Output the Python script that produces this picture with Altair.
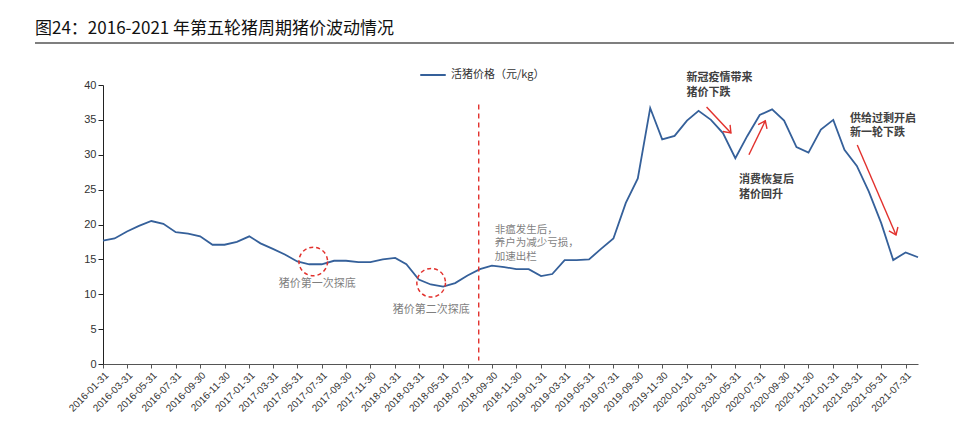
import altair as alt
import pandas as pd

# ---------------- data ----------------
dates = [d.strftime("%Y-%m-%d") for d in pd.date_range("2016-01-31", periods=68, freq="ME")]
prices = [
    17.7, 18.0, 19.0, 19.8, 20.5, 20.1, 18.9, 18.7, 18.3, 17.1, 17.1, 17.5,
    18.3, 17.3, 16.5, 15.7, 14.7, 14.3, 14.3, 14.8, 14.8, 14.6, 14.6, 15.0,
    15.2, 14.3, 12.1, 11.4, 11.1, 11.6, 12.7, 13.6,
    14.1, 13.9, 13.6, 13.6, 12.6, 12.9, 14.9, 14.9, 15.0, 16.5, 18.0, 23.1, 26.6, 36.7, 32.2, 32.7,
    34.9, 36.3, 35.0, 33.1, 29.5, 32.7, 35.7, 36.5, 34.9, 31.1, 30.3, 33.6,
    35.0, 30.7, 28.4, 24.7, 20.2, 14.9, 16.0, 15.3,
]
series_name = "活猪价格（元/kg）"
title_text = "图24：2016-2021 年第五轮猪周期猪价波动情况"

tick_dates = dates[::2]

# dashed vertical marker (ASF outbreak)
vline_date = ["2018-08-28"]
vline_top = [37.2]
vline_bottom = [0.5]

# dashed circles (bottoms)
circle_dates = ["2017-07-10", "2018-05-01"]
circle_vals = [14.7, 11.65]

# circle captions
cap_texts = ["猪价第一次探底", "猪价第二次探底"]
cap_dates = ["2017-07-20", "2018-05-01"]
cap_vals = [11.4, 7.8]

# grey note
note_text = ["非瘟发生后，\n养户为减少亏损，\n加速出栏"]
note_date = ["2018-10-07"]
note_val = [20.0]

# bold notes
bold_texts = ["新冠疫情带来\n猪价下跌", "消费恢复后\n猪价回升", "供给过剩开启\n新一轮下跌"]
bold_dates = ["2020-01-30", "2020-06-09", "2021-03-14"]
bold_vals = [41.8, 27.2, 36.0]

# arrows
arr_x = ["2020-03-20", "2020-07-04", "2021-04-01"]
arr_y = [36.86, 29.99, 31.4]
arr_x2 = ["2020-05-20", "2020-08-14", "2021-07-07"]
arr_y2 = [33.13, 34.86, 18.5]
arr_angle = [47, 295, 66.6]

# ---------------- chart ----------------
FONT_CN = "Noto Sans CJK SC"
RED = "#e2312d"
BLUE = "#35609a"

ts = lambda s: alt.DateTime(year=int(s[:4]), month=int(s[5:7]), date=int(s[8:10]), utc=True)
x_scale = alt.Scale(type="utc", domain=[ts(dates[0]), ts(dates[-1])], nice=False)
y_scale = alt.Scale(domain=[0, 40], nice=False)

x_axis = alt.Axis(values=[ts(d) for d in tick_dates], format="%Y-%m-%d",
                  labelAngle=-45, labelAlign="right", labelBaseline="top",
                  labelOverlap=False, labelBound=False, labelFlush=False,
                  grid=False, tickSize=4, labelFontSize=10, labelPadding=2,
                  domainColor="#555555", tickColor="#555555")
y_axis = alt.Axis(values=list(range(0, 45, 5)), grid=False, tickSize=5,
                  labelFontSize=11, labelPadding=2, labelOverlap=False,
                  domainColor="#222222", tickColor="#222222")


def X(f):
    return alt.X(f, scale=x_scale, axis=x_axis, title=None)


def Y(f):
    return alt.Y(f, scale=y_scale, axis=y_axis, title=None)


df = pd.DataFrame({"date": dates, "price": prices, "series": series_name})

line = alt.Chart(df).mark_line(strokeWidth=1.8).encode(
    x=X("date:T"),
    y=Y("price:Q"),
    color=alt.Color("series:N", scale=alt.Scale(range=[BLUE]),
                    legend=alt.Legend(orient="none", legendX=316, legendY=-24, title=None,
                                      symbolType="stroke", symbolSize=650, symbolStrokeWidth=2,
                                      labelFont=FONT_CN, labelFontSize=11, labelColor="#333333")),
)

vline = alt.Chart(pd.DataFrame({"x": vline_date, "y": vline_top, "y2": vline_bottom})).mark_rule(
    color=RED, strokeDash=[5, 4], strokeWidth=1.4
).encode(x=X("x:T"), y=Y("y:Q"), y2="y2:Q")

circles = alt.Chart(pd.DataFrame({"x": circle_dates, "y": circle_vals})).mark_point(
    shape="circle", filled=False, color=RED, size=820, strokeDash=[4, 3], strokeWidth=1.5, opacity=1
).encode(x=X("x:T"), y=Y("y:Q"))

caps = alt.Chart(pd.DataFrame({"x": cap_dates, "y": cap_vals, "t": cap_texts})).mark_text(
    font=FONT_CN, fontSize=11, color="#7f7f7f", align="center", baseline="middle"
).encode(x=X("x:T"), y=Y("y:Q"), text="t:N")

note = alt.Chart(pd.DataFrame({"x": note_date, "y": note_val, "t": note_text})).mark_text(
    font=FONT_CN, fontSize=10.5, color="#7f7f7f", align="left", baseline="top",
    lineBreak="\n", lineHeight=13.5
).encode(x=X("x:T"), y=Y("y:Q"), text="t:N")

bold = alt.Chart(pd.DataFrame({"x": bold_dates, "y": bold_vals, "t": bold_texts})).mark_text(
    font=FONT_CN, fontSize=11, fontWeight="bold", color="#404040", align="left", baseline="top",
    lineBreak="\n", lineHeight=14.5
).encode(x=X("x:T"), y=Y("y:Q"), text="t:N")

arr_df = pd.DataFrame({"x": arr_x, "y": arr_y, "x2": arr_x2, "y2": arr_y2, "a": arr_angle})
arr_lines = alt.Chart(arr_df).mark_rule(color=RED, strokeWidth=1.4).encode(
    x=X("x:T"), y=Y("y:Q"), x2="x2:T", y2="y2:Q")
arr_heads = alt.Chart(arr_df).mark_point(
    shape="M-1,-0.75L0,0L-1,0.75", filled=False, color=RED, size=170, strokeWidth=1.4, opacity=1
).encode(x=X("x2:T"), y=Y("y2:Q"), angle=alt.Angle("a:Q", scale=None))

title_rule = alt.Chart(df).mark_rule(color="#7f7f7f", strokeWidth=1.6).encode(
    x=alt.value(-68), x2=alt.value(851), y=alt.value(-42))

chart = alt.layer(
    title_rule, line, vline, circles, caps, note, bold, arr_lines, arr_heads
).properties(
    width=815, height=279,
    title=alt.TitleParams(title_text, anchor="start", frame="group", dx=-68, offset=4,
                          font=FONT_CN, fontSize=17, fontWeight="normal", color="#111111"),
    autosize=alt.AutoSizeParams(type="none"),
    padding={"left": 103, "top": 85, "right": 42, "bottom": 75},
).configure_view(stroke=None).configure_axis(
    labelFont="Liberation Sans", labelColor="#333333"
).configure_axisX(labelOverlap=False)

chart.save("out.html", embed_options={"renderer": "svg", "actions": False})
